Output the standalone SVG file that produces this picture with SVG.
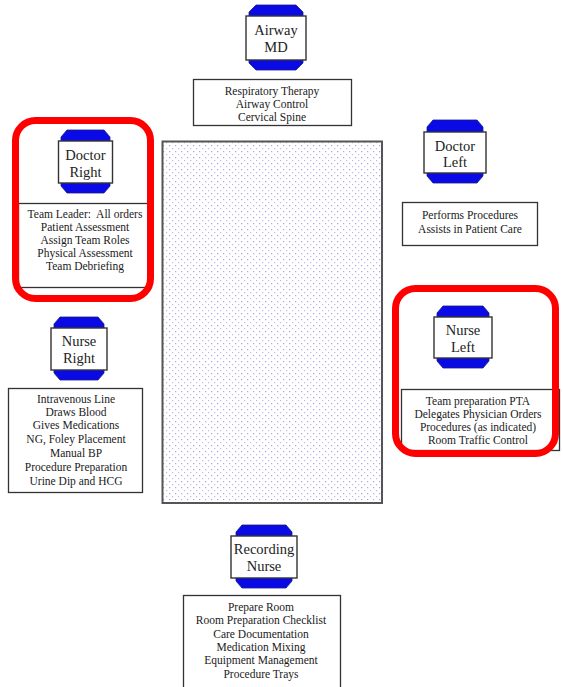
<svg xmlns="http://www.w3.org/2000/svg" width="563" height="687" viewBox="0 0 563 687">
<defs>
<pattern id="dots" width="6" height="6" patternUnits="userSpaceOnUse">
<rect width="6" height="6" fill="#ffffff"/>
<rect x="1" y="1" width="1.2" height="1.2" fill="#a8a8dc"/>
<rect x="4" y="4" width="1.2" height="1.2" fill="#bcbce4"/>
</pattern>
</defs>
<style>
.box{fill:#fff;stroke:#333;stroke-width:1.3}
.ib{fill:#fff;stroke:#333;stroke-width:1.4}
.cap{fill:#0a0ae6;stroke:#1a1a80;stroke-width:0.8}
.red{fill:none;stroke:#ff0000;stroke-width:7}
.t{font-family:"Liberation Serif","Times New Roman",serif;font-size:11.5px;fill:#1a1a1a;text-anchor:middle}
.it{font-family:"Liberation Serif","Times New Roman",serif;font-size:14.5px;fill:#222;text-anchor:middle}
</style>
<rect width="563" height="687" fill="#fff"/>

<g id="bed">
<rect x="162.5" y="141.5" width="219.5" height="361.5" fill="url(#dots)" stroke="#555" stroke-width="2"/>
</g>

<g id="connectors"></g>

<g id="airway-md">
<path class="cap" d="M249,17 L249,12 L256,5 L296,5 L303,12 L303,17 Z"/>
<path class="cap" d="M249,59 L249,63 L256,70 L296,70 L303,63 L303,59 Z"/>
<rect class="ib" x="246" y="16" width="60" height="44"/>
<text class="it" x="276" y="35">Airway</text>
<text class="it" x="276" y="52">MD</text>
<rect class="box" x="193.5" y="79.5" width="158" height="46"/>
<text class="t" x="272" y="95">Respiratory Therapy</text>
<text class="t" x="272" y="108">Airway Control</text>
<text class="t" x="272" y="121">Cervical Spine</text>
</g>

<g id="doctor-right">
<rect class="box" x="18.5" y="203.5" width="132" height="84"/>
<path class="cap" d="M61,142 L61,137 L67,130 L104,130 L110,137 L110,142 Z"/>
<path class="cap" d="M61,182 L61,186 L67,193 L104,193 L110,186 L110,182 Z"/>
<rect class="ib" x="58.5" y="141" width="54" height="42"/>
<text class="it" x="85.5" y="160">Doctor</text>
<text class="it" x="85.5" y="177">Right</text>
<text class="t" x="85" y="218">Team Leader:&#160; All orders</text>
<text class="t" x="85" y="231">Patient Assessment</text>
<text class="t" x="85" y="244">Assign Team Roles</text>
<text class="t" x="85" y="257">Physical Assessment</text>
<text class="t" x="85" y="270">Team Debriefing</text>
<rect class="red" x="15.5" y="120.5" width="135" height="178" rx="20"/>
</g>

<g id="doctor-left">
<path class="cap" d="M427,133 L427,127 L433,120 L477,120 L483,127 L483,133 Z"/>
<path class="cap" d="M427,172 L427,176 L433,183 L477,183 L483,176 L483,172 Z"/>
<rect class="ib" x="424" y="132" width="62" height="41"/>
<text class="it" x="455" y="151">Doctor</text>
<text class="it" x="455" y="167">Left</text>
<rect class="box" x="402.5" y="202.5" width="135" height="43"/>
<text class="t" x="470" y="219">Performs Procedures</text>
<text class="t" x="470" y="233">Assists in Patient Care</text>
</g>

<g id="nurse-right">
<path class="cap" d="M54,329 L54,324 L60,317 L98,317 L104,324 L104,329 Z"/>
<path class="cap" d="M54,369 L54,373 L60,380 L98,380 L104,373 L104,369 Z"/>
<rect class="ib" x="51" y="328" width="56" height="42"/>
<text class="it" x="79" y="346">Nurse</text>
<text class="it" x="79" y="363">Right</text>
<rect class="box" x="8.5" y="388.5" width="134" height="104"/>
<text class="t" x="76" y="403">Intravenous Line</text>
<text class="t" x="76" y="416">Draws Blood</text>
<text class="t" x="76" y="429">Gives Medications</text>
<text class="t" x="76" y="443">NG, Foley Placement</text>
<text class="t" x="76" y="457">Manual BP</text>
<text class="t" x="76" y="471">Procedure Preparation</text>
<text class="t" x="76" y="485">Urine Dip and HCG</text>
</g>

<g id="nurse-left">
<path class="cap" d="M437,318 L437,313 L443,306 L483,306 L489,313 L489,318 Z"/>
<path class="cap" d="M437,357 L437,361 L443,368 L483,368 L489,361 L489,357 Z"/>
<rect class="ib" x="434" y="317" width="58" height="41"/>
<text class="it" x="463" y="335">Nurse</text>
<text class="it" x="463" y="352">Left</text>
<rect class="box" x="401.5" y="389.5" width="158" height="61"/>
<text class="t" x="478" y="405">Team preparation PTA</text>
<text class="t" x="478" y="418">Delegates Physician Orders</text>
<text class="t" x="478" y="431">Procedures (as indicated)</text>
<text class="t" x="478" y="444">Room Traffic Control</text>
<rect class="red" x="395.5" y="288.5" width="160" height="165" rx="20"/>
</g>

<g id="recording-nurse">
<path class="cap" d="M236,537 L236,532 L242,525 L286,525 L292,532 L292,537 Z"/>
<path class="cap" d="M236,577 L236,581 L242,588 L286,588 L292,581 L292,577 Z"/>
<rect class="ib" x="231" y="536" width="66" height="42"/>
<text class="it" x="264" y="554">Recording</text>
<text class="it" x="264" y="571">Nurse</text>
<rect class="box" x="183.5" y="595.5" width="157" height="100"/>
<text class="t" x="261" y="611">Prepare Room</text>
<text class="t" x="261" y="624">Room Preparation Checklist</text>
<text class="t" x="261" y="638">Care Documentation</text>
<text class="t" x="261" y="651">Medication Mixing</text>
<text class="t" x="261" y="664">Equipment Management</text>
<text class="t" x="261" y="678">Procedure Trays</text>
</g>
</svg>
